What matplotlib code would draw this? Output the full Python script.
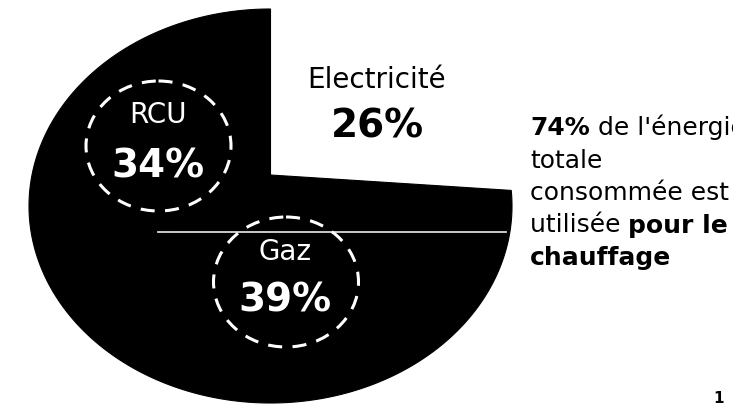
"""
Camembert : répartition de l'énergie consommée (Electricité / Gaz / RCU)
"""

import numpy as np
import matplotlib.pyplot as plt
from matplotlib.patches import Polygon, Ellipse

# données
sources = ['Electricité', 'Gaz', 'RCU']
parts = [26, 39, 34]
parts_txt = ['26%', '39%', '34%']
slice_colors = ['white', 'black', 'black']

# texte de droite : une liste de (morceau, gras ?) par ligne
note_lines = [
    [('74%', True), (" de l'énergie", False)],
    [('totale', False)],
    [('consommée est', False)],
    [('utilisée ', False), ('pour le', True)],
    [('chauffage', True)],
]

plt.rcParams['font.family'] = ['DejaVu Sans']

fig = plt.figure(figsize=(7.33, 4.05), dpi=100, facecolor='white')
ax = fig.add_axes([0, 0, 1, 1])

wedges, _ = ax.pie(parts, startangle=90, counterclock=False, colors=slice_colors)

# le disque est vu incliné (scan d'un camembert en perspective) :
# on projette les parts du disque unité avec une homographie
cx, cy = 270.5, 175      # centre du camembert (sommet des parts)
top, bottom = 9, 403     # bords haut / bas de l'ellipse
half_w = 241.5           # demi-largeur de l'ellipse
c = (2 * cy - top - bottom) / (top - bottom)
k = cy - top - top * c
s = half_w * np.sqrt(1 - c ** 2)


def persp(u, v):
    d = 1 + c * v
    return cx + s * u / d, (cy - k * v) / d


for w in wedges:
    t = np.radians(np.linspace(w.theta1, w.theta2, 300))
    u = np.r_[0, np.cos(t)]
    v = np.r_[0, np.sin(t)]
    xs, ys = persp(u, v)
    fc = w.get_facecolor()
    ax.add_patch(Polygon(np.c_[xs, ys], closed=True, fc=fc, ec=fc,
                         lw=0.8, zorder=1))
    w.remove()

# trait blanc laissé par le scan
ax.plot([158, 506], [232, 232], color='white', lw=1.3, alpha=0.85, zorder=2)

# étiquettes : (x, y du nom, y du pourcentage)
label_pos = [(377, 88, 138), (285, 260, 312), (157.5, 123, 177)]
circled = [False, True, True]

for name, pct, col, (x, yn, yp), circ in zip(sources, parts_txt, slice_colors,
                                             label_pos, circled):
    tc = 'black' if col == 'white' else 'white'
    ax.text(x, yn, name, color=tc, fontsize=20, ha='center', va='baseline',
            zorder=3)
    ax.text(x, yp, pct, color=tc, fontsize=28, fontweight='bold',
            ha='center', va='baseline', zorder=3)
    if circ:
        ax.add_patch(Ellipse((x + 1, (yn + yp) / 2 - 4), 145, 130, fill=False,
                             ec='white', lw=2.2, ls=(0, (4.6, 3.4)), zorder=3))

# texte explicatif à droite (coupé par le bord, comme sur le scan)
x0, y0, step = 530, 135, 32.5
for i, line in enumerate(note_lines):
    prev = None
    for txt, bold in line:
        fw = 'bold' if bold else 'normal'
        if prev is None:
            prev = ax.text(x0, y0 + i * step, txt, fontsize=18, fontweight=fw,
                           color='black', ha='left', va='baseline')
        else:
            prev = ax.annotate(txt, xy=(1, 0), xycoords=prev, fontsize=18,
                               fontweight=fw, color='black', ha='left',
                               va='bottom')

# numéro de page
ax.text(713, 403, '1', fontsize=11, fontweight='bold', va='baseline')

ax.set_aspect('auto')
ax.set_xlim(0, 733)
ax.set_ylim(405, 0)
ax.axis('off')

plt.savefig('out.png', dpi=100, facecolor='white')
